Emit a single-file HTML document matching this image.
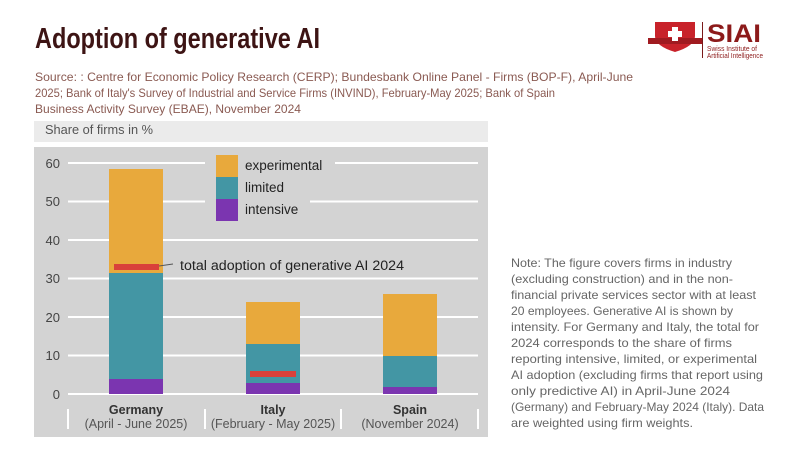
<!DOCTYPE html>
<html><head><meta charset="utf-8"><style>
html,body{margin:0;padding:0;background:#fff;}
svg{display:block;font-family:"Liberation Sans",sans-serif;}
</style></head><body>
<svg width="800" height="450" viewBox="0 0 800 450" xmlns="http://www.w3.org/2000/svg">
<rect width="800" height="450" fill="#fff"/>
<text x="35" y="48" font-size="29" font-weight="bold" fill="#3d1414" textLength="285" lengthAdjust="spacingAndGlyphs">Adoption of generative AI</text>
<g font-size="12" fill="#8a5a52">
<text x="35" y="81" textLength="598" lengthAdjust="spacingAndGlyphs">Source: : Centre for Economic Policy Research (CERP);  Bundesbank Online Panel - Firms (BOP-F), April-June</text>
<text x="35" y="97" textLength="520" lengthAdjust="spacingAndGlyphs">2025; Bank of Italy's Survey of Industrial and Service Firms (INVIND), February-May 2025; Bank of Spain</text>
<text x="35" y="113" textLength="266" lengthAdjust="spacingAndGlyphs">Business Activity Survey (EBAE), November 2024</text>
</g>
<path d="M655 22 H695 V36 Q695 46 675 52 Q655 46 655 36 Z" fill="#c8222a"/>
<rect x="648" y="38" width="54" height="6" fill="#a01a20"/>
<rect x="672" y="27" width="6" height="14" fill="#fff"/>
<rect x="668" y="31" width="14" height="6" fill="#fff"/>
<rect x="702" y="22" width="1" height="36" fill="#7a1a1a"/>
<text x="707" y="42" font-size="25" font-weight="bold" fill="#8c1a1a" textLength="54" lengthAdjust="spacingAndGlyphs">SIAI</text>
<text x="707" y="51" font-size="7" fill="#8c1a1a" textLength="50" lengthAdjust="spacingAndGlyphs">Swiss Institute of</text>
<text x="707" y="58" font-size="7" fill="#8c1a1a" textLength="56" lengthAdjust="spacingAndGlyphs">Artificial Intelligence</text>
<rect x="34" y="121" width="454" height="21" fill="#ebebeb"/>
<text x="45" y="134" font-size="12.5" fill="#555" textLength="108" lengthAdjust="spacingAndGlyphs">Share of firms in %</text>
<rect x="34" y="147" width="454" height="290" fill="#d3d3d3"/>
<g stroke="#fff" stroke-width="2">
<line x1="68" y1="163" x2="205" y2="163"/><line x1="335" y1="163" x2="478" y2="163"/>
<line x1="68" y1="201.5" x2="205" y2="201.5"/><line x1="310" y1="201.5" x2="478" y2="201.5"/>
<line x1="68" y1="240" x2="478" y2="240"/>
<line x1="68" y1="278.5" x2="478" y2="278.5"/>
<line x1="68" y1="317" x2="478" y2="317"/>
<line x1="68" y1="355.5" x2="478" y2="355.5"/>
<line x1="68" y1="394" x2="478" y2="394"/>
</g>
<g font-size="13" fill="#444" text-anchor="end">
<text x="60" y="168">60</text><text x="60" y="206">50</text><text x="60" y="245">40</text>
<text x="60" y="283">30</text><text x="60" y="322">20</text><text x="60" y="360">10</text><text x="60" y="399">0</text>
</g>
<rect x="109" y="169" width="54" height="104" fill="#e8a93c"/>
<rect x="109" y="273" width="54" height="106" fill="#4396a4"/>
<rect x="109" y="379" width="54" height="15" fill="#7b35b0"/>
<rect x="246" y="302" width="54" height="42" fill="#e8a93c"/>
<rect x="246" y="344" width="54" height="39" fill="#4396a4"/>
<rect x="246" y="383" width="54" height="11" fill="#7b35b0"/>
<rect x="383" y="294" width="54" height="62" fill="#e8a93c"/>
<rect x="383" y="356" width="54" height="31" fill="#4396a4"/>
<rect x="383" y="387" width="54" height="7" fill="#7b35b0"/>
<rect x="114" y="264" width="45" height="6" fill="#d9403a"/>
<rect x="250" y="371" width="46" height="6" fill="#d9403a"/>
<line x1="159" y1="266" x2="173" y2="264" stroke="#555" stroke-width="1"/>
<text x="180" y="270" font-size="13.5" fill="#222" textLength="224" lengthAdjust="spacingAndGlyphs">total adoption of generative AI 2024</text>
<rect x="216" y="155" width="22" height="22" fill="#e8a93c"/>
<rect x="216" y="177" width="22" height="22" fill="#4396a4"/>
<rect x="216" y="199" width="22" height="22" fill="#7b35b0"/>
<g font-size="13.5" fill="#222">
<text x="245" y="170">experimental</text>
<text x="245" y="192">limited</text>
<text x="245" y="214">intensive</text>
</g>
<g stroke="#fff" stroke-width="2">
<line x1="68" y1="409" x2="68" y2="429"/><line x1="205" y1="409" x2="205" y2="429"/>
<line x1="341" y1="409" x2="341" y2="429"/><line x1="478" y1="409" x2="478" y2="429"/>
</g>
<g font-size="12.5" fill="#333" text-anchor="middle">
<text x="136" y="414" font-weight="bold">Germany</text>
<text x="136" y="428" fill="#555">(April - June 2025)</text>
<text x="273" y="414" font-weight="bold">Italy</text>
<text x="273" y="428" fill="#555">(February - May 2025)</text>
<text x="410" y="414" font-weight="bold">Spain</text>
<text x="410" y="428" fill="#555">(November 2024)</text>
</g>
<g font-size="12" fill="#666">
<text x="511" y="267" textLength="221" lengthAdjust="spacingAndGlyphs">Note: The figure covers firms in industry</text>
<text x="511" y="283" textLength="222" lengthAdjust="spacingAndGlyphs">(excluding construction) and in the non-</text>
<text x="511" y="299" textLength="245" lengthAdjust="spacingAndGlyphs">financial private services sector with at least</text>
<text x="511" y="315" textLength="222" lengthAdjust="spacingAndGlyphs">20 employees. Generative AI is shown by</text>
<text x="511" y="331" textLength="248" lengthAdjust="spacingAndGlyphs">intensity. For Germany and Italy, the total for</text>
<text x="511" y="347" textLength="221" lengthAdjust="spacingAndGlyphs">2024 corresponds to the share of firms</text>
<text x="511" y="363" textLength="246" lengthAdjust="spacingAndGlyphs">reporting intensive, limited, or experimental</text>
<text x="511" y="379" textLength="252" lengthAdjust="spacingAndGlyphs">AI adoption (excluding firms that report using</text>
<text x="511" y="395" textLength="219" lengthAdjust="spacingAndGlyphs">only predictive AI) in April-June 2024</text>
<text x="511" y="411" textLength="253" lengthAdjust="spacingAndGlyphs">(Germany) and February-May 2024 (Italy). Data</text>
<text x="511" y="427" textLength="182" lengthAdjust="spacingAndGlyphs">are weighted using firm weights.</text>
</g>
</svg>
</body></html>
